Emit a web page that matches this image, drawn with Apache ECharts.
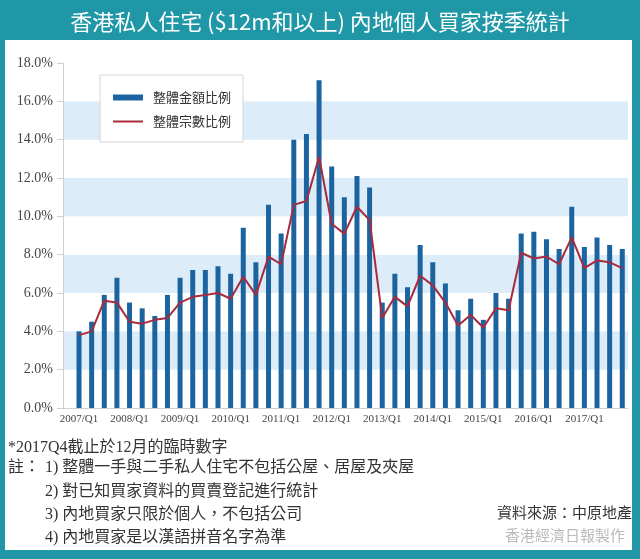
<!DOCTYPE html>
<html><head><meta charset="utf-8">
<script src="https://cdn.jsdelivr.net/npm/echarts@6/dist/echarts.min.js"></script>
<style>html,body{margin:0;padding:0;background:#fff}#c{width:640px;height:559px}</style>
</head><body><div id="c"></div>
<script>
var categories = ["2007/Q1","2007/Q2","2007/Q3","2007/Q4","2008/Q1","2008/Q2","2008/Q3","2008/Q4",
"2009/Q1","2009/Q2","2009/Q3","2009/Q4","2010/Q1","2010/Q2","2010/Q3","2010/Q4",
"2011/Q1","2011/Q2","2011/Q3","2011/Q4","2012/Q1","2012/Q2","2012/Q3","2012/Q4",
"2013/Q1","2013/Q2","2013/Q3","2013/Q4","2014/Q1","2014/Q2","2014/Q3","2014/Q4",
"2015/Q1","2015/Q2","2015/Q3","2015/Q4","2016/Q1","2016/Q2","2016/Q3","2016/Q4",
"2017/Q1","2017/Q2","2017/Q3","2017/Q4"];
var amountShare = [4.0,4.5,5.9,6.8,5.5,5.2,4.8,5.9,6.8,7.2,7.2,7.4,7.0,9.4,7.6,10.6,9.1,14.0,14.3,17.1,12.6,11.0,12.1,11.5,5.5,7.0,6.3,8.5,7.6,6.5,5.1,5.7,4.6,6.0,5.7,9.1,9.2,8.8,8.3,10.5,8.4,8.9,8.5,8.3];
var countShare = [3.8,4.0,5.6,5.5,4.5,4.4,4.6,4.7,5.5,5.8,5.9,6.0,5.7,6.85,5.9,7.9,7.5,10.6,10.8,13.1,9.6,9.1,10.5,9.8,4.7,5.8,5.3,6.9,6.4,5.5,4.3,4.85,4.2,5.2,5.1,8.1,7.8,7.9,7.5,8.9,7.3,7.7,7.6,7.3];
var seriesNames = ["整體金額比例","整體宗數比例"];
var titleText = "香港私人住宅 ($12m和以上) 內地個人買家按季統計";
var notes = ["*2017Q4截止於12月的臨時數字","註：","1) 整體一手與二手私人住宅不包括公屋、居屋及夾屋","2) 對已知買家資料的買賣登記進行統計","3) 內地買家只限於個人，不包括公司","4) 內地買家是以漢語拼音名字為準"];
var sourceText = "資料來源：中原地產";
var watermark = "香港經濟日報製作";

var TEAL = "#2097a7";
var SERIF = '"Liberation Serif","DejaVu Serif",serif';
var CJK = '"Noto Sans CJK TC","Noto Sans",sans-serif';
var NOTE_FONT = '"Liberation Serif","Noto Sans CJK TC",serif';

var chart = echarts.init(document.getElementById('c'), null, {renderer:'canvas'});
chart.setOption({
  animation:false,
  backgroundColor:TEAL,
  title:{text:titleText,left:'center',top:6,textStyle:{color:'#fff',fontSize:22,fontWeight:'normal',fontFamily:CJK}},
  graphic:[
    {type:'rect',z:-10,shape:{x:5,y:40,width:627,height:510},style:{fill:'#fff'}},
    {type:'text',left:8,top:440,style:{text:notes[0],font:'16px '+NOTE_FONT,fill:'#333'}},
    {type:'text',left:8,top:460,style:{text:notes[1],font:'16px '+NOTE_FONT,fill:'#333'}},
    {type:'text',left:45,top:460,style:{text:notes[2],font:'16px '+NOTE_FONT,fill:'#333'}},
    {type:'text',left:45,top:484,style:{text:notes[3],font:'16px '+NOTE_FONT,fill:'#333'}},
    {type:'text',left:45,top:507,style:{text:notes[4],font:'16px '+NOTE_FONT,fill:'#333'}},
    {type:'text',left:45,top:530,style:{text:notes[5],font:'16px '+NOTE_FONT,fill:'#333'}},
    {type:'text',left:497,top:507,style:{text:sourceText,font:'15px '+NOTE_FONT,fill:'#333'}},
    {type:'text',left:505,top:530,style:{text:watermark,font:'15px '+NOTE_FONT,fill:'#bbb'}}
  ],
  legend:{
    orient:'vertical',left:100,top:75,
    data:[{name:seriesNames[0],icon:'rect'},{name:seriesNames[1],icon:'path://M0,0 L30,0 L30,2 L0,2 Z'}],
    itemWidth:30,itemHeight:6,itemGap:11,symbolKeepAspect:true,
    padding:[16,12,14,13],
    backgroundColor:'#fff',borderColor:'#d6d6d6',borderWidth:1,
    textStyle:{fontFamily:CJK,fontSize:13,color:'#333',padding:[0,0,0,5]}
  },
  grid:[
    {left:63,right:12,top:63,bottom:151},
    {left:72.7,right:11.4,top:63,bottom:151}
  ],
  xAxis:[
    {type:'value',gridIndex:0,min:0,max:1,axisLabel:{show:false},axisTick:{show:false},splitLine:{show:false},
      axisLine:{show:true,lineStyle:{color:'#cfcfcf'}}},
    {type:'category',gridIndex:1,data:categories,
      axisLine:{show:false},axisTick:{show:false},
      axisLabel:{interval:3,margin:6,fontFamily:SERIF,fontSize:11,color:'#444'}}
  ],
  yAxis:[
    {type:'value',gridIndex:0,min:0,max:18,interval:2,
      axisLine:{show:true,lineStyle:{color:'#cfcfcf'}},
      axisTick:{show:true,length:6,lineStyle:{color:'#cfcfcf'}},
      splitLine:{show:false},
      splitArea:{show:true,areaStyle:{color:['#ffffff','#dcecf8']}},
      axisLabel:{margin:10,fontFamily:SERIF,fontSize:14,color:'#444',formatter:function(v){return v.toFixed(1)+'%';}}},
    {type:'value',gridIndex:1,min:0,max:18,interval:2,show:false,splitLine:{show:false}}
  ],
  series:[
    {name:seriesNames[0],type:'bar',xAxisIndex:1,yAxisIndex:1,data:amountShare,barWidth:5,
      itemStyle:{color:'#1c64a0'}},
    {name:seriesNames[1],type:'line',xAxisIndex:1,yAxisIndex:1,data:countShare,symbol:'none',
      lineStyle:{color:'#a82a3c',width:2},itemStyle:{color:'#a82a3c'}}
  ]
});
</script></body></html>
